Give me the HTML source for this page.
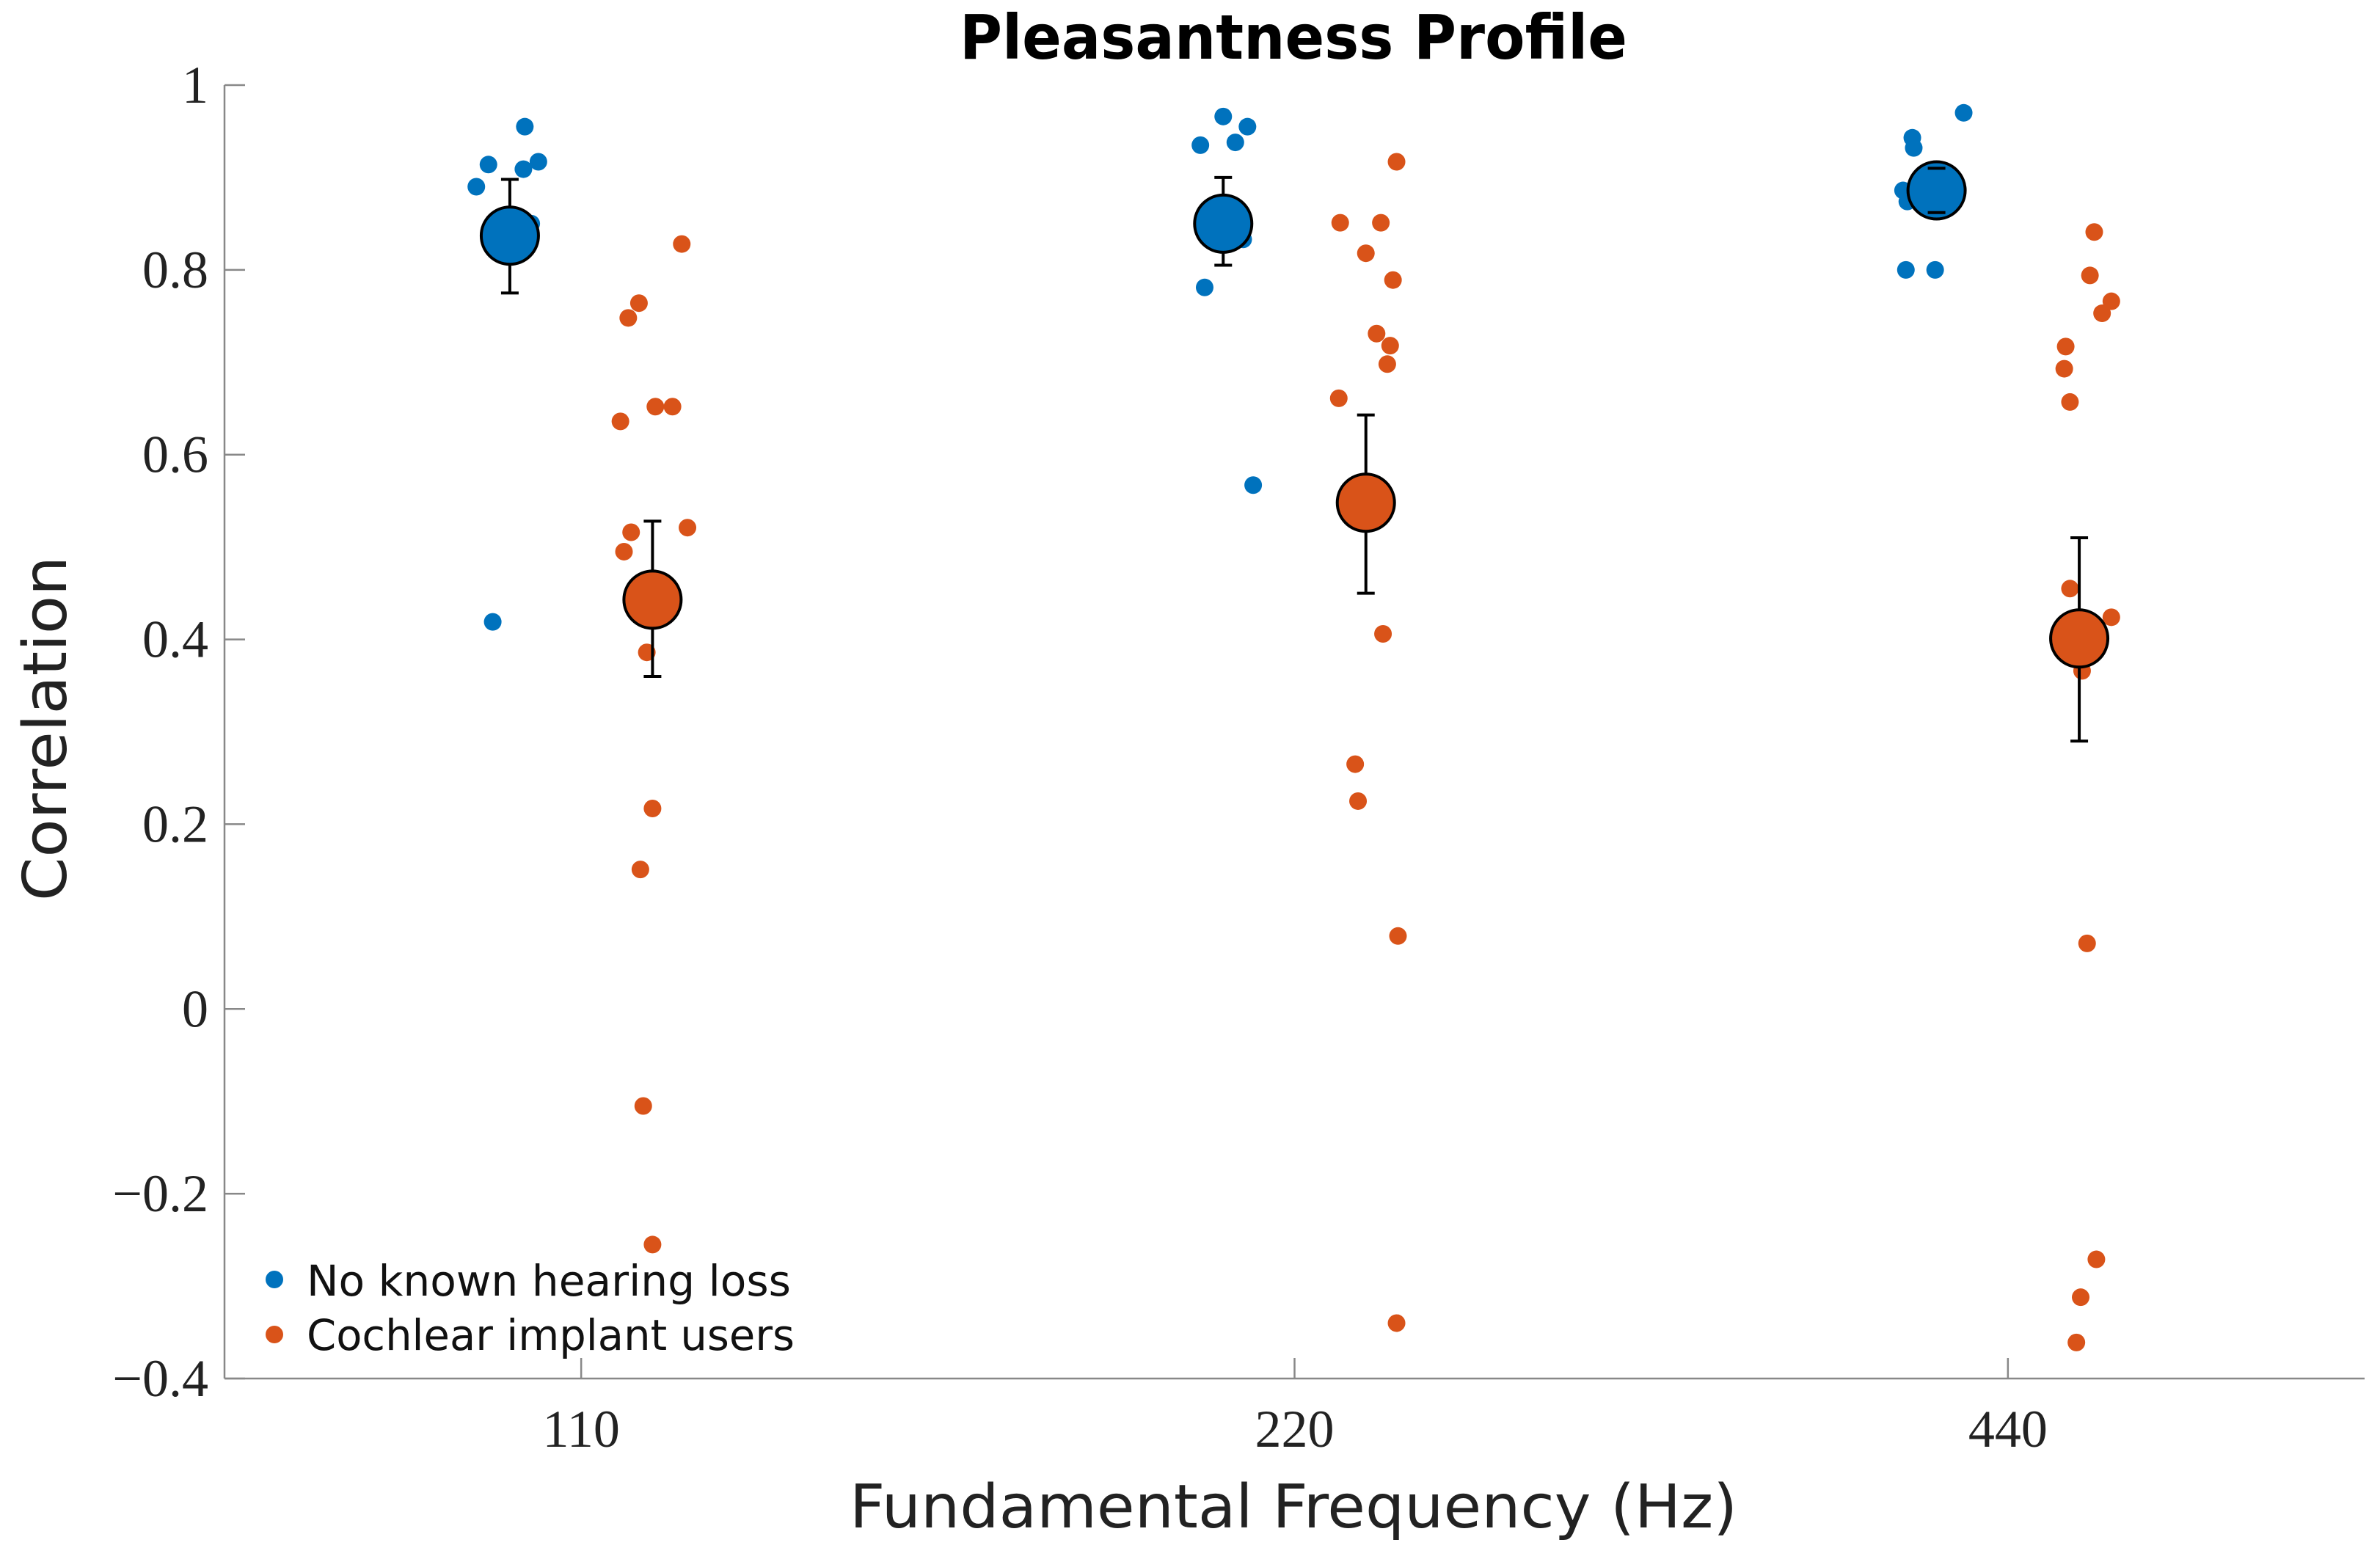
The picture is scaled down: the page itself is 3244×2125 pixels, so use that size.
<!DOCTYPE html>
<html><head><meta charset="utf-8"><style>
html,body{margin:0;padding:0;background:#fff;}
svg{display:block;}
.tick{font-family:"Liberation Serif",serif;font-size:72px;fill:#222;}
.sans{font-family:"DejaVu Sans","Liberation Sans",sans-serif;}
</style></head><body>
<svg id="chart" width="3244" height="2125" xmlns="http://www.w3.org/2000/svg"></svg>
<script>
const categories = ["110","220","440"];
const yTicks = [1,0.8,0.6,0.4,0.2,0,-0.2,-0.4];
const yTickLabels = ["1","0.8","0.6","0.4","0.2","0","\u22120.2","\u22120.4"];
const nhVals = [
 [0.89,0.914,0.955,0.909,0.917,0.419,0.85],
 [0.966,0.935,0.955,0.938,0.781,0.567,0.833],
 [0.97,0.943,0.932,0.886,0.874,0.8,0.8]
];
const nhJitter = [
 [-0.147,-0.130,-0.079,-0.081,-0.060,-0.124,-0.07],
 [-0.100,-0.132,-0.066,-0.083,-0.126,-0.058,-0.072],
 [-0.062,-0.134,-0.132,-0.147,-0.141,-0.143,-0.102]
];
const ciVals = [
 [0.828,0.764,0.748,0.636,0.652,0.652,0.521,0.516,0.495,0.386,0.217,0.151,-0.105,-0.255],
 [0.917,0.851,0.851,0.818,0.789,0.731,0.718,0.698,0.661,0.406,0.265,0.225,0.079,-0.34],
 [0.841,0.794,0.753,0.766,0.717,0.693,0.657,0.455,0.424,0.366,0.071,-0.271,-0.312,-0.361]
];
const ciJitter = [
 [0.141,0.081,0.066,0.055,0.104,0.128,0.149,0.070,0.060,0.092,0.100,0.083,0.087,0.100],
 [0.143,0.064,0.121,0.100,0.138,0.115,0.134,0.130,0.062,0.124,0.085,0.089,0.145,0.143],
 [0.121,0.115,0.132,0.145,0.081,0.079,0.087,0.087,0.145,0.104,0.111,0.124,0.102,0.096]
];
const nhMean = [0.837,0.85,0.886];
const nhLo = [0.775,0.805,0.862];
const nhHi = [0.898,0.9,0.91];
const ciMean = [0.443,0.548,0.401];
const ciLo = [0.36,0.45,0.29];
const ciHi = [0.528,0.643,0.51];

const NS="http://www.w3.org/2000/svg";
const svg=document.getElementById('chart');
const L=306,R=3223,T=116,B=1879;
const xMin=0.5,xMax=3.5,yMin=-0.4,yMax=1;
const X=v=>L+(v-xMin)/(xMax-xMin)*(R-L);
const Y=v=>B-(v-yMin)/(yMax-yMin)*(B-T);
function mk(tag,attrs,parent){const e=document.createElementNS(NS,tag);for(const k in attrs)e.setAttribute(k,attrs[k]);(parent||svg).appendChild(e);return e;}
const BLUE="#0072BD",ORANGE="#D95319";

let ax=mk('line',{x1:L,y1:T,x2:L,y2:B,stroke:'#888','stroke-width':2.5});


let bx=mk('line',{x1:L,y1:B,x2:R,y2:B,stroke:'#888','stroke-width':2.5});



yTicks.forEach((t,i)=>{
 const tl=mk('line',{x1:L,y1:Y(t),x2:L+28,y2:Y(t),stroke:'#888','stroke-width':2.5});
 
 
 const tx=mk('text',{x:L-22,y:Y(t)+24,'text-anchor':'end',class:'tick'});
 tx.textContent=yTickLabels[i];
 
 
});
categories.forEach((c,i)=>{
 const tl=mk('line',{x1:X(i+1),y1:B,x2:X(i+1),y2:B-28,stroke:'#888','stroke-width':2.5});
 
 
 const tx=mk('text',{x:X(i+1),y:1972,'text-anchor':'middle',class:'tick'});
 tx.textContent=c;
 
 
});

categories.forEach((c,i)=>{
 nhVals[i].forEach((v,j)=>{
  const p=mk('circle',{cx:X(i+1+nhJitter[i][j]),cy:Y(v),r:12,fill:BLUE});
  
  
 });
 ciVals[i].forEach((v,j)=>{
  const p=mk('circle',{cx:X(i+1+ciJitter[i][j]),cy:Y(v),r:12,fill:ORANGE});
  
  
 });
});
function meanMark(xv,m,lo,hi,col,name){
 const g=mk('g',{});
 
 
 const cx=X(xv);
 mk('line',{x1:cx,y1:Y(lo),x2:cx,y2:Y(hi),stroke:'#000','stroke-width':4},g);
 mk('line',{x1:cx-12,y1:Y(lo),x2:cx+12,y2:Y(lo),stroke:'#000','stroke-width':4},g);
 mk('line',{x1:cx-12,y1:Y(hi),x2:cx+12,y2:Y(hi),stroke:'#000','stroke-width':4},g);
 mk('circle',{cx:cx,cy:Y(m),r:39,fill:col,stroke:'#000','stroke-width':4},g);
 if(hi-lo<0.06){
  mk('line',{x1:cx-12,y1:Y(lo),x2:cx+12,y2:Y(lo),stroke:'#000','stroke-width':4},g);
  mk('line',{x1:cx-12,y1:Y(hi),x2:cx+12,y2:Y(hi),stroke:'#000','stroke-width':4},g);
 }
}
categories.forEach((c,i)=>{
 meanMark(i+1-0.1,nhMean[i],nhLo[i],nhHi[i],BLUE,'nh-mean-'+c);
 meanMark(i+1+0.1,ciMean[i],ciLo[i],ciHi[i],ORANGE,'ci-mean-'+c);
});
</script>
<svg style="position:absolute;left:0;top:0" width="3244" height="2125" xmlns="http://www.w3.org/2000/svg">
 <text x="1763" y="80" text-anchor="middle" class="sans" font-weight="bold" font-size="84" textLength="910" lengthAdjust="spacingAndGlyphs">Pleasantness Profile</text>
 <text x="1763" y="2082" text-anchor="middle" class="sans" font-size="82" fill="#222" textLength="1210" lengthAdjust="spacingAndGlyphs">Fundamental Frequency (Hz)</text>
 <text transform="translate(90,993) rotate(-90)" text-anchor="middle" class="sans" font-size="82" fill="#222" textLength="470" lengthAdjust="spacingAndGlyphs">Correlation</text>
 <g>
  <circle cx="374" cy="1744" r="12" fill="#0072BD"/>
  <text x="418" y="1766" class="sans" font-size="58" fill="#111" textLength="660" lengthAdjust="spacingAndGlyphs">No known hearing loss</text>
  <circle cx="374" cy="1819" r="12" fill="#D95319"/>
  <text x="418" y="1840" class="sans" font-size="58" fill="#111" textLength="665" lengthAdjust="spacingAndGlyphs">Cochlear implant users</text>
 </g>
</svg>
</body></html>
